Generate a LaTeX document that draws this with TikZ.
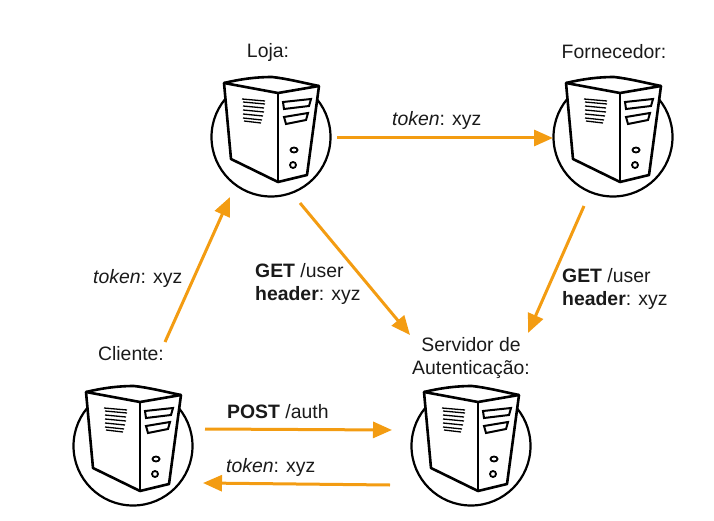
\documentclass[tikz,border=0pt]{standalone}
\usepackage{fontspec}
\setmainfont{Liberation Sans}
\usetikzlibrary{arrows.meta}
\definecolor{flow}{HTML}{F39C12}
\definecolor{ink}{HTML}{1A1A1A}
\tikzset{
  lbl/.style={font=\fontsize{19.4}{23.5}\selectfont,text=ink,inner sep=0pt,align=center},
  lleft/.style={lbl,anchor=west,align=left},
  flowarrow/.style={draw=flow,line width=3pt,-{Triangle[length=19pt,width=16pt]}},
  ring/.style={circle,draw=black,line width=2.2pt,minimum size=119pt,inner sep=0pt},
  server/.pic={
    \filldraw[fill=white,draw=black,line width=2.6pt,line join=round]
      (-47,-54) .. controls (-30,-58) and (-15,-60) .. (1,-60) .. controls (18,-58) and (33,-54) .. (48,-51)
      -- (36,38) -- (7,45) -- (-40,22) -- cycle;
    \draw[line width=2.6pt,line join=round] (-47,-54) -- (7,-44) -- (48,-51);
    \draw[line width=2.6pt] (7,-44) -- (7,45);
    \draw[line width=2pt] (12,-35) -- (40,-38) -- (38,-31) -- (13,-28) -- cycle;
    \draw[line width=2pt] (13,-20) -- (37,-24) -- (35,-17) -- (15,-13) -- cycle;
    \draw[line width=1.8pt] (23,13) ellipse (3.5 and 2.5);
    \draw[line width=1.8pt] (22,28) ellipse (3 and 3);
    \foreach \yy/\xa/\xb in {-38/-29/-6,-35/-28/-6,-31/-28/-7,-27/-28/-7,-23/-28/-8,-19/-28/-9,-16/-27/-10}
      \draw[line width=1.3pt] (\xa,\yy) -- (\xb,\yy+2);
  }
}
\begin{document}
\begin{tikzpicture}[x=1pt,y=-1pt]
\useasboundingbox (0,0) rectangle (714,521);
\node[ring] (loja) at (271,137) {};
\node[ring] (forn) at (613,137) {};
\node[ring] (cli) at (133,446) {};
\node[ring] (auth) at (471,446) {};
\pic at (271,137) {server};
\pic at (613,137) {server};
\pic at (133,446) {server};
\pic at (471,446) {server};
\node[lbl] (tloja) at (268,52) {Loja:};
\node[lbl] (tforn) at (614,52) {Fornecedor:};
\node[lbl] (tcli) at (131,354) {Cliente:};
\node[lbl] (tauth) at (471,358) {Servidor de\\Autenticação:};
\coordinate (a1) at (337,138); \coordinate (b1) at (553,138);
\coordinate (a2) at (165,342); \coordinate (b2) at (230,197);
\coordinate (a3) at (300,203); \coordinate (b3) at (410,335);
\coordinate (a4) at (584,206); \coordinate (b4) at (528,333);
\coordinate (a5) at (205,429); \coordinate (b5) at (392,430);
\coordinate (a6) at (390,485); \coordinate (b6) at (203,483);
\foreach \i in {1,...,6} \draw[flowarrow] (a\i) -- (b\i);
\node[lleft] (l1) at (392,120) {\textit{token}: xyz};
\node[lleft] (l2) at (93,278) {\textit{token}: xyz};
\node[lleft] (l3) at (255,284) {\textbf{GET} /user\\\textbf{header}: xyz};
\node[lleft] (l4) at (562,289) {\textbf{GET} /user\\\textbf{header}: xyz};
\node[lleft] (l5) at (227,412) {\textbf{POST} /auth};
\node[lleft] (l6) at (226,467) {\textit{token}: xyz};
\end{tikzpicture}
\end{document}
